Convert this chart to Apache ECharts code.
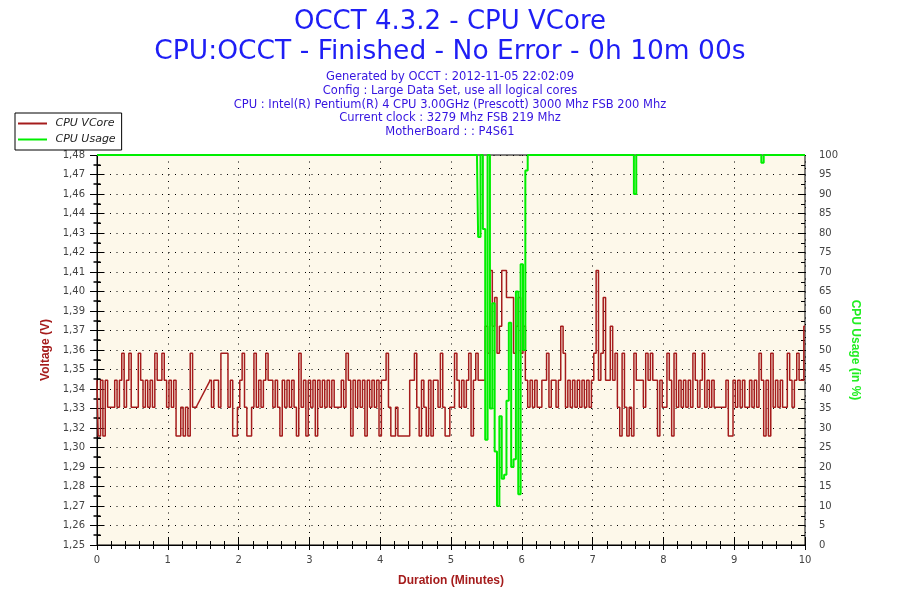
<!DOCTYPE html>
<html>
<head>
<meta charset="utf-8">
<script src="https://cdn.jsdelivr.net/npm/echarts@6/dist/echarts.min.js"></script>
<style>
html,body{margin:0;padding:0;background:#fff;}
#chart{width:900px;height:600px;}
</style>
</head>
<body>
<div id="chart"></div>
<script>
// ---- text ----
const titleMain = 'OCCT 4.3.2 - CPU VCore';
const titleSub = 'CPU:OCCT - Finished - No Error - 0h 10m 00s';
const infoLines = [
  'Generated by OCCT : 2012-11-05 22:02:09',
  'Config : Large Data Set, use all logical cores',
  'CPU : Intel(R) Pentium(R) 4 CPU 3.00GHz (Prescott) 3000 Mhz FSB 200 Mhz',
  'Current clock : 3279 Mhz FSB 219 Mhz',
  'MotherBoard : : P4S61'
];
const seriesNames = ['CPU VCore', 'CPU Usage'];

// ---- tick labels ----
const voltLabels = ['1,25','1,26','1,27','1,28','1,29','1,30','1,32','1,33','1,34','1,35','1,36',
                    '1,37','1,39','1,40','1,41','1,42','1,43','1,44','1,46','1,47','1,48'];
const usageLabels = ['0','5','10','15','20','25','30','35','40','45','50','55','60','65','70','75','80','85','90','95','100'];
const minuteLabels = ['0','1','2','3','4','5','6','7','8','9','10'];

// ---- samples: one every 2 seconds (30 per minute), 0..10 min ----
const samplesPerMinute = 30;
// CPU VCore (V); null = no sample recorded
const voltage = [
  1.345,1.312,1.345,1.312,1.345,1.329,1.329,1.329,1.345,1.329,1.345,1.361,1.329,1.345,1.361,1.329,1.329,1.329,1.361,1.345,1.329,1.345,1.329,1.345,1.329,1.361,1.345,1.345,1.361,1.345,
  1.329,1.345,1.329,1.345,1.312,1.312,1.329,1.312,1.329,1.312,1.361,1.329,1.329,null,null,null,null,null,1.345,1.329,1.345,1.345,1.329,1.361,1.361,1.361,1.329,1.345,1.312,1.312,
  1.329,1.345,1.361,1.329,1.312,1.312,1.329,1.361,1.329,1.345,1.329,1.345,1.361,1.345,1.345,1.329,1.345,1.329,1.312,1.345,1.329,1.345,1.329,1.345,1.329,1.312,1.361,1.329,1.345,1.312,
  1.345,1.329,1.345,1.312,1.345,1.329,1.345,1.329,1.345,1.329,1.345,1.329,1.329,1.329,1.345,1.329,1.361,1.345,1.312,1.345,1.329,1.345,1.329,1.345,1.312,1.345,1.329,1.345,1.329,1.345,
  1.312,1.345,1.345,1.361,1.329,1.312,1.312,1.329,1.312,1.312,1.312,1.312,1.312,1.345,1.345,1.361,1.329,1.312,1.345,1.329,1.312,1.345,1.312,1.345,1.345,1.329,1.361,1.329,1.312,1.312,
  1.329,1.329,1.361,1.345,1.329,1.345,1.329,1.345,1.361,1.312,1.345,1.361,1.345,1.345,1.345,1.377,1.361,1.410,1.377,1.394,1.361,1.377,1.410,1.410,1.394,1.394,1.394,1.361,1.377,1.394,
  1.361,1.377,1.345,1.329,1.345,1.329,1.345,1.329,1.329,1.345,1.345,1.361,1.329,1.345,1.345,1.329,1.345,1.377,1.361,1.329,1.345,1.329,1.345,1.329,1.345,1.329,1.345,1.329,1.345,1.329,
  1.345,1.361,1.410,1.345,1.361,1.394,1.345,1.345,1.377,1.345,1.361,1.329,1.312,1.361,1.329,1.312,1.329,1.312,1.361,1.345,1.345,1.345,1.329,1.361,1.345,1.361,1.345,1.345,1.312,1.345,
  1.329,1.329,1.361,1.345,1.312,1.361,1.329,1.345,1.329,1.345,1.329,1.345,1.329,1.361,1.345,1.329,1.345,1.361,1.329,1.345,1.329,1.345,1.329,1.329,1.329,1.329,1.329,1.345,1.312,1.312,
  1.345,1.329,1.345,1.329,1.345,1.329,1.329,1.345,1.329,1.345,1.329,1.361,1.345,1.312,1.345,1.312,1.361,1.329,1.345,1.329,1.345,1.329,1.329,1.361,1.345,1.329,1.345,1.361,1.345,1.345,1.377
];
// CPU Usage (%)
const usage = [
  100,100,100,100,100,100,100,100,100,100,100,100,100,100,100,100,100,100,100,100,100,100,100,100,100,100,100,100,100,100,
  100,100,100,100,100,100,100,100,100,100,100,100,100,100,100,100,100,100,100,100,100,100,100,100,100,100,100,100,100,100,
  100,100,100,100,100,100,100,100,100,100,100,100,100,100,100,100,100,100,100,100,100,100,100,100,100,100,100,100,100,100,
  100,100,100,100,100,100,100,100,100,100,100,100,100,100,100,100,100,100,100,100,100,100,100,100,100,100,100,100,100,100,
  100,100,100,100,100,100,100,100,100,100,100,100,100,100,100,100,100,100,100,100,100,100,100,100,100,100,100,100,100,100,
  100,100,100,100,100,100,100,100,100,100,100,100,79,100,81,27,100,35,62,24,10,33,17,18,37,57,20,22,65,13,
  72,50,96,100,100,100,100,100,100,100,100,100,100,100,100,100,100,100,100,100,100,100,100,100,100,100,100,100,100,100,
  100,100,100,100,100,100,100,100,100,100,100,100,100,100,100,100,100,100,90,100,100,100,100,100,100,100,100,100,100,100,
  100,100,100,100,100,100,100,100,100,100,100,100,100,100,100,100,100,100,100,100,100,100,100,100,100,100,100,100,100,100,
  100,100,100,100,100,100,100,100,100,100,100,100,98,100,100,100,100,100,100,100,100,100,100,100,100,100,100,100,100,100,100
];

// ---- axis scale ----
const vStep = 0.01155;
const vMin = 108 * vStep;   // 1.2474
const vMax = vMin + 20 * vStep;

const toPairs = arr => arr.map((v, i) => [i / samplesPerMinute, v === null ? '-' : v]);
// straight segment bridging the run of missing voltage samples
const gapStart = voltage.indexOf(null);
const gapEnd = voltage.lastIndexOf(null);
const gapBridge = [
  [(gapStart - 1) / samplesPerMinute, voltage[gapStart - 1]],
  [(gapEnd + 1) / samplesPerMinute, voltage[gapEnd + 1]]
];

const RED = '#a51c1c';
const GREEN = '#00ee00';
const TITLE_BLUE = '#1e1ef5';
const INFO_BLUE = '#3514e0';
const FONT = 'DejaVu Sans';

const chart = echarts.init(document.getElementById('chart'), null, {renderer: 'canvas'});

const titles = [
  {text: titleMain, left: 'center', top: 9, padding: 0, textStyle: {fontFamily: FONT, fontSize: 26, fontWeight: 'normal', color: TITLE_BLUE}},
  {text: titleSub, left: 'center', top: 39, padding: 0, textStyle: {fontFamily: FONT, fontSize: 26.5, fontWeight: 'normal', color: TITLE_BLUE}}
];
infoLines.forEach((line, i) => {
  titles.push({text: line, left: 'center', top: 71 + i * 13.8, padding: 0,
    textStyle: {fontFamily: FONT, fontSize: 11.5, fontWeight: 'normal', color: INFO_BLUE}});
});

const dotted = {color: '#000', width: 1, type: [1, 5.5]};

const option = {
  backgroundColor: '#ffffff',
  animation: false,
  title: titles,
  legend: {
    data: [
      {name: seriesNames[0], itemStyle: {color: RED}},
      {name: seriesNames[1], itemStyle: {color: GREEN}}
    ],
    orient: 'vertical',
    left: 15, top: 113,
    padding: [5, 6, 5, 3],
    itemGap: 5,
    itemWidth: 29, itemHeight: 2,
    icon: 'rect',
    backgroundColor: '#fff',
    borderColor: '#000', borderWidth: 1, borderRadius: 0,
    formatter: n => ' ' + n,
    textStyle: {fontFamily: FONT, fontSize: 11, fontStyle: 'italic', color: '#222'}
  },
  grid: {
    left: 97, right: 95, top: 155, bottom: 55,
    show: true, backgroundColor: '#fdf8ea', borderColor: '#000', borderWidth: 1
  },
  xAxis: [
    {
      type: 'value', min: 0, max: 10, interval: 1, position: 'bottom',
      name: 'Duration (Minutes)', nameLocation: 'middle', nameGap: 30,
      nameTextStyle: {fontFamily: 'Liberation Sans', fontSize: 12, fontWeight: 'bold', color: RED},
      axisLine: {show: true, lineStyle: {color: '#000', width: 1}},
      axisTick: {show: true, length: 5, lineStyle: {color: '#000'}},
      minorTick: {show: true, splitNumber: 5, length: 4, lineStyle: {color: '#000'}},
      axisLabel: {margin: 10, fontFamily: FONT, fontSize: 10, color: '#444',
        formatter: v => minuteLabels[Math.round(v)]},
      splitLine: {show: true, lineStyle: dotted}
    },
    {
      type: 'value', min: 0, max: 10, interval: 1, position: 'bottom',
      axisLine: {show: false},
      axisTick: {show: true, inside: true, length: 8, lineStyle: {color: '#000'}},
      minorTick: {show: true, splitNumber: 5, length: 4, lineStyle: {color: '#000'}},
      axisLabel: {show: false}, splitLine: {show: false}
    }
  ],
  yAxis: [
    {
      type: 'value', min: vMin, max: vMax, interval: vStep, position: 'left',
      name: 'Voltage (V)', nameLocation: 'middle', nameGap: 32,
      nameTextStyle: {fontFamily: 'Liberation Sans', fontSize: 12, fontWeight: 'bold', color: RED},
      axisLine: {show: true, lineStyle: {color: '#000', width: 1}},
      axisTick: {show: true, length: 7, lineStyle: {color: '#000'}},
      minorTick: {show: true, splitNumber: 2, length: 3.5, lineStyle: {color: '#000', width: 1.5}},
      axisLabel: {margin: 12, fontFamily: FONT, fontSize: 10, color: '#444',
        formatter: v => voltLabels[Math.round((v - vMin) / vStep)] || ''},
      splitLine: {show: false}
    },
    {
      type: 'value', min: 0, max: 100, interval: 5, position: 'right',
      name: 'CPU Usage (in %)', nameLocation: 'middle', nameGap: 31, nameRotate: -90,
      nameTextStyle: {fontFamily: 'Liberation Sans', fontSize: 12, fontWeight: 'bold', color: '#22ee22'},
      axisLine: {show: true, lineStyle: {color: '#000', width: 1}},
      axisTick: {show: true, length: 7, lineStyle: {color: '#000'}},
      minorTick: {show: true, splitNumber: 2, length: 4, lineStyle: {color: '#000'}},
      axisLabel: {margin: 14, fontFamily: FONT, fontSize: 10, color: '#444',
        formatter: v => usageLabels[Math.round(v / 5)] || ''},
      splitLine: {show: true, lineStyle: dotted}
    },
    {
      type: 'value', min: vMin, max: vMax, interval: vStep, position: 'left',
      axisLine: {show: false},
      axisTick: {show: true, inside: true, length: 7, lineStyle: {color: '#000'}},
      minorTick: {show: true, splitNumber: 2, length: 3.5, lineStyle: {color: '#000', width: 1.5}},
      axisLabel: {show: false}, splitLine: {show: false}
    },
    {
      type: 'value', min: 0, max: 100, interval: 5, position: 'right',
      axisLine: {show: false},
      axisTick: {show: true, inside: true, length: 7, lineStyle: {color: '#000'}},
      minorTick: {show: true, splitNumber: 2, length: 4, lineStyle: {color: '#000'}},
      axisLabel: {show: false}, splitLine: {show: false}
    }
  ],
  series: [
    {
      name: seriesNames[0], type: 'line', xAxisIndex: 0, yAxisIndex: 0,
      data: toPairs(voltage), step: 'middle', connectNulls: false,
      showSymbol: false, symbol: 'none',
      lineStyle: {color: RED, width: 1.5}, itemStyle: {color: RED}, z: 3
    },
    {
      name: seriesNames[0], type: 'line', xAxisIndex: 0, yAxisIndex: 0,
      data: gapBridge, showSymbol: false, symbol: 'none',
      lineStyle: {color: RED, width: 1.5}, itemStyle: {color: RED}, z: 3
    },
    {
      name: seriesNames[1], type: 'line', xAxisIndex: 0, yAxisIndex: 1,
      data: toPairs(usage), step: 'middle', showSymbol: false, symbol: 'none',
      lineStyle: {color: GREEN, width: 2}, itemStyle: {color: GREEN}, z: 4
    }
  ]
};
chart.setOption(option);
</script>
</body>
</html>
